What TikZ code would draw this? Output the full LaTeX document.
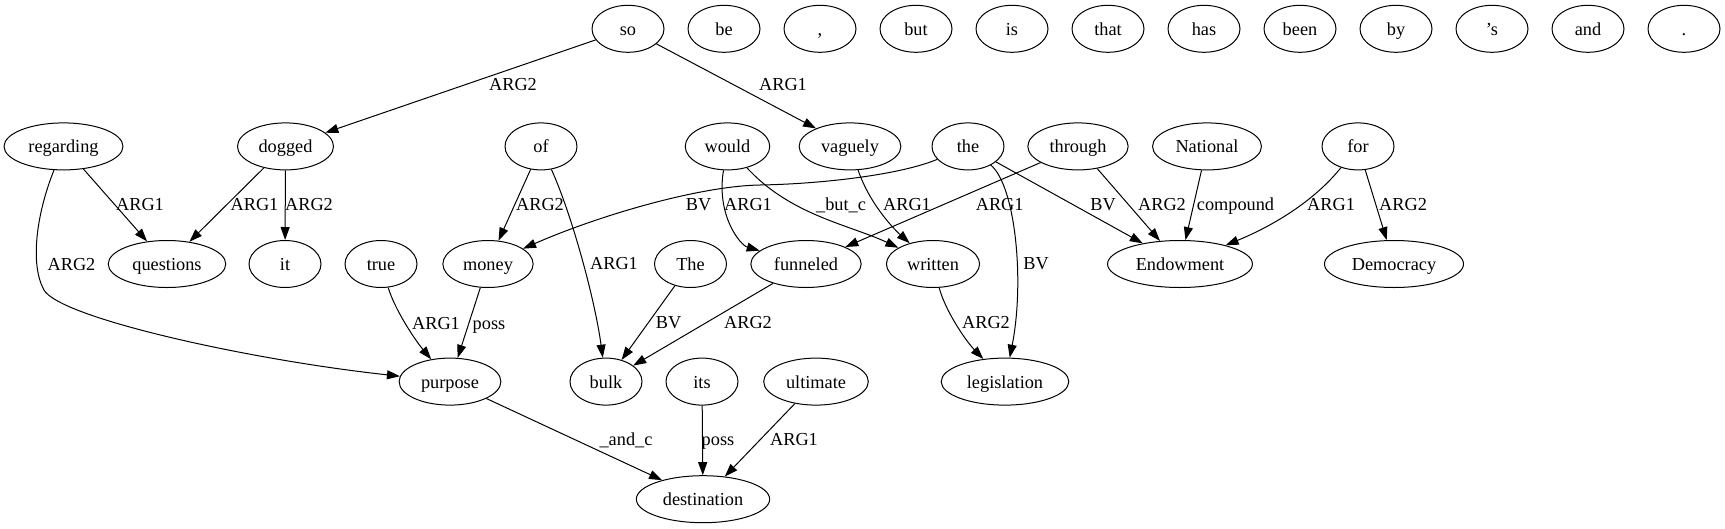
\documentclass[tikz,border=0pt]{standalone}
\usepackage{fontspec}
\setmainfont{Liberation Serif}
\usetikzlibrary{shapes.geometric,arrows.meta}
\begin{document}
\begin{tikzpicture}[x=1pt,y=-1pt,
  el/.style={ellipse,draw,line width=1pt,minimum width=72pt,minimum height=47pt,inner xsep=7pt,inner ysep=2pt,text height=14pt,text depth=1pt,font=\fontsize{18.3}{22}\selectfont},
  lbl/.style={anchor=base,inner sep=0pt,font=\fontsize{18.3}{22}\selectfont},
  arr/.style={-{Triangle[length=13pt,width=9pt]},line width=1pt}]
\useasboundingbox (0,0) rectangle (1725,528);
% row 0
\node[el] (nso) at (628,28.8) {so};
\node[el] (nbe) at (724,28.8) {be};
\node[el] (ncomma) at (820,28.8) {,};
\node[el] (nbut) at (916,28.8) {but};
\node[el] (nis) at (1012,28.8) {is};
\node[el] (nthat) at (1108,28.8) {that};
\node[el] (nhas) at (1204,28.8) {has};
\node[el] (nbeen) at (1300,28.8) {been};
\node[el] (nby) at (1396,28.8) {by};
\node[el] (naps) at (1492,28.8) {’s};
\node[el] (nand) at (1588,28.8) {and};
\node[el] (nperiod) at (1684,28.8) {.};
% row 1
\node[el] (nregarding) at (63.5,146.4) {regarding};
\node[el] (ndogged) at (285.5,146.4) {dogged};
\node[el] (nof) at (541,146.4) {of};
\node[el] (nwould) at (727.5,146.4) {would};
\node[el] (nvaguely) at (850,146.4) {vaguely};
\node[el] (nthe) at (968,146.4) {the};
\node[el] (nthrough) at (1078,146.4) {through};
\node[el] (nNational) at (1207,146.4) {National};
\node[el] (nfor) at (1358,146.4) {for};
% row 2
\node[el] (nquestions) at (167,264) {questions};
\node[el] (nit) at (285,264) {it};
\node[el] (ntrue) at (381,264) {true};
\node[el] (nmoney) at (488,264) {money};
\node[el] (nThe) at (690.5,264) {The};
\node[el] (nfunneled) at (806,264) {funneled};
\node[el] (nwritten) at (933,264) {written};
\node[el] (nEndowment) at (1180,264) {Endowment};
\node[el] (nDemocracy) at (1394,264) {Democracy};
% row 3
\node[el] (npurpose) at (450,381.6) {purpose};
\node[el] (nbulk) at (606,381.6) {bulk};
\node[el] (nits) at (702,381.6) {its};
\node[el] (nultimate) at (816,381.6) {ultimate};
\node[el] (nlegislation) at (1005,381.6) {legislation};
% row 4
\node[el] (ndestination) at (703,499.2) {destination};
% edges
\draw[arr] (nso) -- (ndogged);
\draw[arr] (nso) -- (nvaguely);
\draw[arr] (nregarding) -- (nquestions);
\draw[arr] (nregarding) .. controls (36,215) and (30,265) .. (44,290) .. controls (60,318) and (250,360) .. (npurpose);
\draw[arr] (ndogged) -- (nquestions);
\draw[arr] (ndogged) -- (nit);
\draw[arr] (nof) -- (nmoney);
\draw[arr] (nof) .. controls (572,215) and (595,300) .. (nbulk);
\draw[arr] (nthe) .. controls (900,175) and (820,184) .. (760,185) .. controls (700,186) and (600,215) .. (nmoney);
\draw[arr] (nwould) .. controls (716,215) and (740,245) .. (nfunneled);
\draw[arr] (nwould) .. controls (790,215) and (850,225) .. (nwritten);
\draw[arr] (nvaguely) .. controls (870,205) and (895,230) .. (nwritten);
\draw[arr] (nthrough) -- (nfunneled);
\draw[arr] (nthe) -- (nEndowment);
\draw[arr] (nthe) .. controls (1015,185) and (1025,280) .. (nlegislation);
\draw[arr] (nthrough) -- (nEndowment);
\draw[arr] (nNational) -- (nEndowment);
\draw[arr] (nfor) .. controls (1315,200) and (1275,225) .. (nEndowment);
\draw[arr] (nfor) -- (nDemocracy);
\draw[arr] (ntrue) .. controls (395,310) and (415,340) .. (npurpose);
\draw[arr] (nmoney) -- (npurpose);
\draw[arr] (nThe) -- (nbulk);
\draw[arr] (nfunneled) -- (nbulk);
\draw[arr] (nwritten) .. controls (945,310) and (965,340) .. (nlegislation);
\draw[arr] (npurpose) -- (ndestination);
\draw[arr] (nits) -- (ndestination);
\draw[arr] (nultimate) -- (ndestination);
% labels
\node[lbl] (l1) at (513,90) {ARG2};
\node[lbl] (l2) at (783,90) {ARG1};
\node[lbl] (l3) at (140,210) {ARG1};
\node[lbl] (l4) at (71.5,270) {ARG2};
\node[lbl] (l5) at (254.5,210) {ARG1};
\node[lbl] (l6) at (309,210) {ARG2};
\node[lbl] (l7) at (540,210) {ARG2};
\node[lbl] (l8) at (614,269) {ARG1};
\node[lbl] (l9) at (698.5,210) {BV};
\node[lbl] (l10) at (748,210) {ARG1};
\node[lbl] (l11) at (841,210) {\_but\_c};
\node[lbl] (l12) at (907,210) {ARG1};
\node[lbl] (l13) at (999.7,210) {ARG1};
\node[lbl] (l14) at (1103,210) {BV};
\node[lbl] (l15) at (1036,269) {BV};
\node[lbl] (l16) at (1162,210) {ARG2};
\node[lbl] (l17) at (1235.5,210) {compound};
\node[lbl] (l18) at (1331,210) {ARG1};
\node[lbl] (l19) at (1403,210) {ARG2};
\node[lbl] (l20) at (436,329) {ARG1};
\node[lbl] (l21) at (489,329) {poss};
\node[lbl] (l22) at (668.6,328) {BV};
\node[lbl] (l23) at (748,328) {ARG2};
\node[lbl] (l24) at (986,328) {ARG2};
\node[lbl] (l25) at (626,445) {\_and\_c};
\node[lbl] (l26) at (718,445) {poss};
\node[lbl] (l27) at (794,445) {ARG1};
\end{tikzpicture}
\end{document}
